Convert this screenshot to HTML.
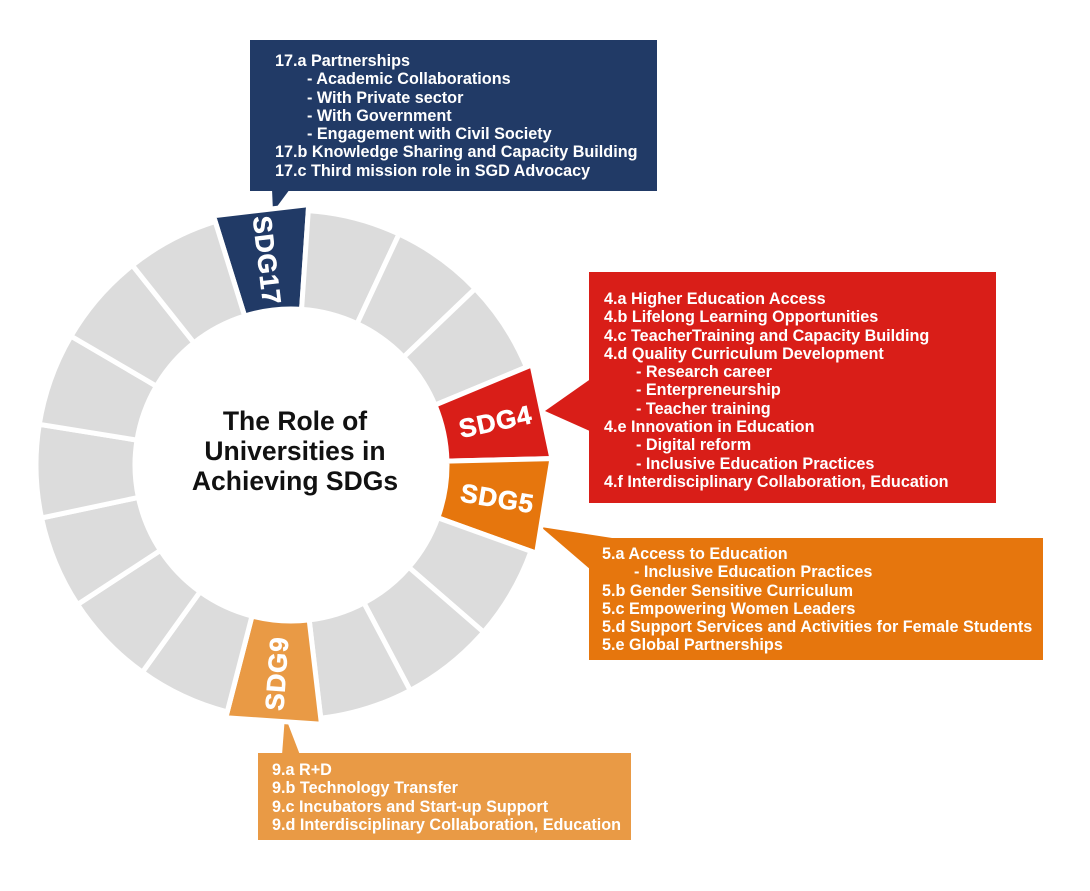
<!DOCTYPE html>
<html><head><meta charset="utf-8">
<style>
html,body{margin:0;padding:0;background:#fff;}
body{width:1090px;height:891px;position:relative;overflow:hidden;font-family:"Liberation Sans",Arial,sans-serif;}
svg{position:absolute;left:0;top:0;}
.box{position:absolute;color:#fff;font-weight:bold;font-size:16.2px;line-height:18.3px;box-sizing:border-box;white-space:nowrap;}
.box div.i{padding-left:32px;}
</style></head><body>
<svg id="s" width="1090" height="891" viewBox="0 0 1090 891"></svg>
<div class="box" style="left:250px;top:40px;width:407px;height:151px;background:#213a66;padding:12px 0 0 25px;">
<div>17.a Partnerships</div><div class="i">- Academic Collaborations</div><div class="i">- With Private sector</div><div class="i">- With Government</div><div class="i">- Engagement with Civil Society</div><div>17.b Knowledge Sharing and Capacity Building</div><div>17.c Third mission role in SGD Advocacy</div>
</div>
<div class="box" style="left:589px;top:272px;width:407px;height:231px;background:#d91e18;padding:18px 0 0 15px;">
<div>4.a Higher Education Access</div><div>4.b Lifelong Learning Opportunities</div><div>4.c TeacherTraining and Capacity Building</div><div>4.d Quality Curriculum Development</div><div class="i">- Research career</div><div class="i">- Enterpreneurship</div><div class="i">- Teacher training</div><div>4.e Innovation in Education</div><div class="i">- Digital reform</div><div class="i">- Inclusive Education Practices</div><div>4.f Interdisciplinary Collaboration, Education</div>
</div>
<div class="box" style="left:589px;top:538px;width:454px;height:122px;background:#e6760d;padding:7px 0 0 13px;">
<div>5.a Access to Education</div><div class="i">- Inclusive Education Practices</div><div>5.b Gender Sensitive Curriculum</div><div>5.c Empowering Women Leaders</div><div>5.d Support Services and Activities for Female Students</div><div>5.e Global Partnerships</div>
</div>
<div class="box" style="left:258px;top:753px;width:373px;height:87px;background:#e99a45;padding:8px 0 0 14px;">
<div>9.a R+D</div><div>9.b Technology Transfer</div><div>9.c Incubators and Start-up Support</div><div>9.d Interdisciplinary Collaboration, Education</div>
</div>
<script>
(function(){
var s=document.getElementById('s'),cx=291,cy=465,ri=156,ro=255;
var step=360/17,off=-6.7;
var col={0:'#213a66',4:'#d91e18',5:'#e6760d',9:'#e99a45'};
function P(r,a){a=a*Math.PI/180;return [cx+r*Math.sin(a),cy-r*Math.cos(a)];}
var h='';
h+='<polygon points="273,212 272,189 290,189" fill="#213a66"/>';
h+='<polygon points="545,411 592,378 592,432" fill="#d91e18"/>';
h+='<polygon points="541,527 625,540 591,570" fill="#e6760d"/>';
h+='<polygon points="285,716 282,755 300,755" fill="#e99a45"/>';
for(var k=0;k<17;k++){
 var c=off+k*step,a0=c-step/2,a1=c+step/2,R=col[k]?261:ro;
 var p1=P(ri,a0),p2=P(R,a0),p3=P(R,a1),p4=P(ri,a1);
 var outer=col[k]?('L'+p3[0]+','+p3[1]):('A'+R+','+R+' 0 0 1 '+p3[0]+','+p3[1]);
 h+='<path d="M'+p1[0]+','+p1[1]+'L'+p2[0]+','+p2[1]+outer+'L'+p4[0]+','+p4[1]+'A'+ri+','+ri+' 0 0 0 '+p1[0]+','+p1[1]+'Z" fill="'+(col[k]||'#dcdcdc')+'" stroke="#fff" stroke-width="5" stroke-linejoin="miter"/>';
}
var labs=[[0,'SDG17',83.3,206],[4,'SDG4',-12,209],[5,'SDG5',9.2,209],[9,'SDG9',-86,209]];
labs.forEach(function(l){var p=P(l[3],off+l[0]*step);
 h+='<text x="'+p[0]+'" y="'+p[1]+'" transform="rotate('+l[2]+' '+p[0]+' '+p[1]+')" text-anchor="middle" dominant-baseline="central" fill="#fff" font-family="Liberation Sans,Arial,sans-serif" font-weight="bold" font-size="26" letter-spacing="0.8" stroke="#fff" stroke-width="0.6">'+l[1]+'</text>';});
var t=['The Role of','Universities in','Achieving SDGs'];
t.forEach(function(x,i){h+='<text x="295" y="'+(421+i*30)+'" text-anchor="middle" dominant-baseline="central" fill="#111" font-family="Liberation Sans,Arial,sans-serif" font-weight="bold" font-size="26.5">'+x+'</text>';});
s.innerHTML=h;
})();
</script>
</body></html>
